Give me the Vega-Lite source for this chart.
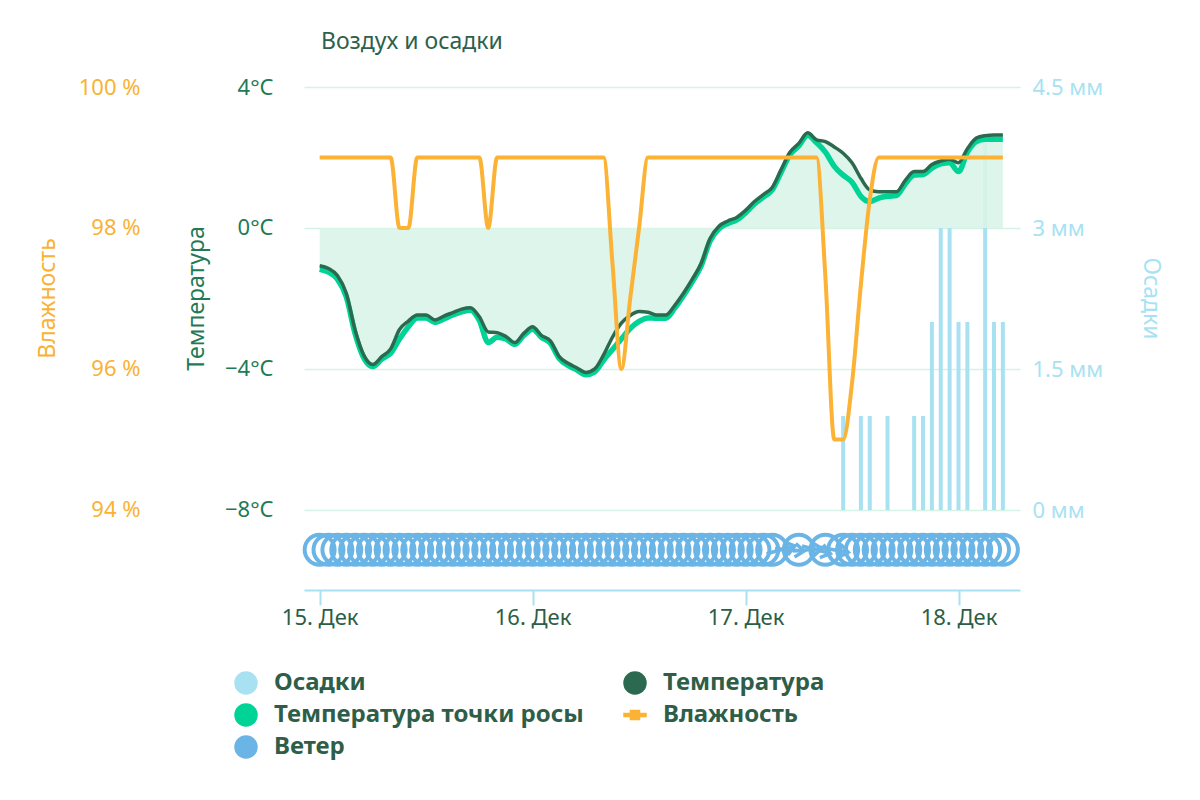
{
  "$schema": "https://vega.github.io/schema/vega-lite/v6.json",
  "width": 716,
  "height": 503,
  "autosize": "none",
  "padding": {"left": 304, "top": 87, "right": 180, "bottom": 210},
  "background": "#ffffff",
  "title": {
    "text": "Воздух и осадки",
    "anchor": "start",
    "frame": "group",
    "baseline": "alphabetic",
    "offset": 4,
    "dx": 17,
    "fontSize": 23,
    "fontWeight": "normal",
    "color": "#2f5f4e"
  },
  "data": {
    "values": [
      {"t": "2024-12-15T00:00Z", "temp": -1.07, "dew": -1.17, "hum": 99, "precip": 0, "wind": 0, "dir": 0},
      {"t": "2024-12-15T01:00Z", "temp": -1.15, "dew": -1.25, "hum": 99, "precip": 0, "wind": 0, "dir": 0},
      {"t": "2024-12-15T02:00Z", "temp": -1.35, "dew": -1.45, "hum": 99, "precip": 0, "wind": 0, "dir": 0},
      {"t": "2024-12-15T03:00Z", "temp": -1.85, "dew": -1.95, "hum": 99, "precip": 0, "wind": 0, "dir": 0},
      {"t": "2024-12-15T04:00Z", "temp": -2.9, "dew": -3.0, "hum": 99, "precip": 0, "wind": 0, "dir": 0},
      {"t": "2024-12-15T05:00Z", "temp": -3.62, "dew": -3.7, "hum": 99, "precip": 0, "wind": 0, "dir": 0},
      {"t": "2024-12-15T06:00Z", "temp": -3.87, "dew": -3.93, "hum": 99, "precip": 0, "wind": 0, "dir": 0},
      {"t": "2024-12-15T07:00Z", "temp": -3.65, "dew": -3.72, "hum": 99, "precip": 0, "wind": 0, "dir": 0},
      {"t": "2024-12-15T08:00Z", "temp": -3.43, "dew": -3.55, "hum": 99, "precip": 0, "wind": 0, "dir": 0},
      {"t": "2024-12-15T09:00Z", "temp": -2.88, "dew": -3.15, "hum": 98, "precip": 0, "wind": 0, "dir": 0},
      {"t": "2024-12-15T10:00Z", "temp": -2.64, "dew": -2.8, "hum": 98, "precip": 0, "wind": 0, "dir": 0},
      {"t": "2024-12-15T11:00Z", "temp": -2.47, "dew": -2.55, "hum": 99, "precip": 0, "wind": 0, "dir": 0},
      {"t": "2024-12-15T12:00Z", "temp": -2.47, "dew": -2.55, "hum": 99, "precip": 0, "wind": 0, "dir": 0},
      {"t": "2024-12-15T13:00Z", "temp": -2.61, "dew": -2.68, "hum": 99, "precip": 0, "wind": 0, "dir": 0},
      {"t": "2024-12-15T14:00Z", "temp": -2.5, "dew": -2.58, "hum": 99, "precip": 0, "wind": 0, "dir": 0},
      {"t": "2024-12-15T15:00Z", "temp": -2.4, "dew": -2.47, "hum": 99, "precip": 0, "wind": 0, "dir": 0},
      {"t": "2024-12-15T16:00Z", "temp": -2.3, "dew": -2.38, "hum": 99, "precip": 0, "wind": 0, "dir": 0},
      {"t": "2024-12-15T17:00Z", "temp": -2.26, "dew": -2.33, "hum": 99, "precip": 0, "wind": 0, "dir": 0},
      {"t": "2024-12-15T18:00Z", "temp": -2.52, "dew": -2.62, "hum": 99, "precip": 0, "wind": 0, "dir": 0},
      {"t": "2024-12-15T19:00Z", "temp": -2.95, "dew": -3.25, "hum": 98, "precip": 0, "wind": 0, "dir": 0},
      {"t": "2024-12-15T20:00Z", "temp": -2.97, "dew": -3.1, "hum": 99, "precip": 0, "wind": 0, "dir": 0},
      {"t": "2024-12-15T21:00Z", "temp": -3.08, "dew": -3.15, "hum": 99, "precip": 0, "wind": 0, "dir": 0},
      {"t": "2024-12-15T22:00Z", "temp": -3.25, "dew": -3.3, "hum": 99, "precip": 0, "wind": 0, "dir": 0},
      {"t": "2024-12-15T23:00Z", "temp": -2.99, "dew": -3.05, "hum": 99, "precip": 0, "wind": 0, "dir": 0},
      {"t": "2024-12-16T00:00Z", "temp": -2.8, "dew": -2.87, "hum": 99, "precip": 0, "wind": 0, "dir": 0},
      {"t": "2024-12-16T01:00Z", "temp": -3.05, "dew": -3.1, "hum": 99, "precip": 0, "wind": 0, "dir": 0},
      {"t": "2024-12-16T02:00Z", "temp": -3.2, "dew": -3.27, "hum": 99, "precip": 0, "wind": 0, "dir": 0},
      {"t": "2024-12-16T03:00Z", "temp": -3.65, "dew": -3.7, "hum": 99, "precip": 0, "wind": 0, "dir": 0},
      {"t": "2024-12-16T04:00Z", "temp": -3.84, "dew": -3.9, "hum": 99, "precip": 0, "wind": 0, "dir": 0},
      {"t": "2024-12-16T05:00Z", "temp": -3.97, "dew": -4.03, "hum": 99, "precip": 0, "wind": 0, "dir": 0},
      {"t": "2024-12-16T06:00Z", "temp": -4.1, "dew": -4.16, "hum": 99, "precip": 0, "wind": 0, "dir": 0},
      {"t": "2024-12-16T07:00Z", "temp": -4.0, "dew": -4.08, "hum": 99, "precip": 0, "wind": 0, "dir": 0},
      {"t": "2024-12-16T08:00Z", "temp": -3.6, "dew": -3.75, "hum": 99, "precip": 0, "wind": 0, "dir": 0},
      {"t": "2024-12-16T09:00Z", "temp": -3.1, "dew": -3.45, "hum": 97.5, "precip": 0, "wind": 0, "dir": 0},
      {"t": "2024-12-16T10:00Z", "temp": -2.7, "dew": -3.15, "hum": 96, "precip": 0, "wind": 0, "dir": 0},
      {"t": "2024-12-16T11:00Z", "temp": -2.48, "dew": -2.85, "hum": 97, "precip": 0, "wind": 0, "dir": 0},
      {"t": "2024-12-16T12:00Z", "temp": -2.37, "dew": -2.65, "hum": 98, "precip": 0, "wind": 0, "dir": 0},
      {"t": "2024-12-16T13:00Z", "temp": -2.39, "dew": -2.55, "hum": 99, "precip": 0, "wind": 0, "dir": 0},
      {"t": "2024-12-16T14:00Z", "temp": -2.47, "dew": -2.56, "hum": 99, "precip": 0, "wind": 0, "dir": 0},
      {"t": "2024-12-16T15:00Z", "temp": -2.47, "dew": -2.56, "hum": 99, "precip": 0, "wind": 0, "dir": 0},
      {"t": "2024-12-16T16:00Z", "temp": -2.2, "dew": -2.28, "hum": 99, "precip": 0, "wind": 0, "dir": 0},
      {"t": "2024-12-16T17:00Z", "temp": -1.85, "dew": -1.92, "hum": 99, "precip": 0, "wind": 0, "dir": 0},
      {"t": "2024-12-16T18:00Z", "temp": -1.45, "dew": -1.52, "hum": 99, "precip": 0, "wind": 0, "dir": 0},
      {"t": "2024-12-16T19:00Z", "temp": -1.0, "dew": -1.07, "hum": 99, "precip": 0, "wind": 0, "dir": 0},
      {"t": "2024-12-16T20:00Z", "temp": -0.3, "dew": -0.37, "hum": 99, "precip": 0, "wind": 0, "dir": 0},
      {"t": "2024-12-16T21:00Z", "temp": 0.05, "dew": -0.02, "hum": 99, "precip": 0, "wind": 0, "dir": 0},
      {"t": "2024-12-16T22:00Z", "temp": 0.2, "dew": 0.13, "hum": 99, "precip": 0, "wind": 0, "dir": 0},
      {"t": "2024-12-16T23:00Z", "temp": 0.3, "dew": 0.23, "hum": 99, "precip": 0, "wind": 0, "dir": 0},
      {"t": "2024-12-17T00:00Z", "temp": 0.5, "dew": 0.43, "hum": 99, "precip": 0, "wind": 0, "dir": 0},
      {"t": "2024-12-17T01:00Z", "temp": 0.75, "dew": 0.68, "hum": 99, "precip": 0, "wind": 0, "dir": 0},
      {"t": "2024-12-17T02:00Z", "temp": 0.95, "dew": 0.88, "hum": 99, "precip": 0, "wind": 0, "dir": 0},
      {"t": "2024-12-17T03:00Z", "temp": 1.15, "dew": 1.08, "hum": 99, "precip": 0, "wind": 0, "dir": 0},
      {"t": "2024-12-17T04:00Z", "temp": 1.65, "dew": 1.58, "hum": 99, "precip": 0, "wind": 1, "dir": 255},
      {"t": "2024-12-17T05:00Z", "temp": 2.15, "dew": 2.08, "hum": 99, "precip": 0, "wind": 1, "dir": 275},
      {"t": "2024-12-17T06:00Z", "temp": 2.4, "dew": 2.33, "hum": 99, "precip": 0, "wind": 0, "dir": 0},
      {"t": "2024-12-17T07:00Z", "temp": 2.7, "dew": 2.63, "hum": 99, "precip": 0, "wind": 1, "dir": 265},
      {"t": "2024-12-17T08:00Z", "temp": 2.5, "dew": 2.42, "hum": 99, "precip": 0, "wind": 1, "dir": 285},
      {"t": "2024-12-17T09:00Z", "temp": 2.45, "dew": 2.15, "hum": 97.3, "precip": 0, "wind": 0, "dir": 0},
      {"t": "2024-12-17T10:00Z", "temp": 2.3, "dew": 1.75, "hum": 95, "precip": 0, "wind": 1, "dir": 280},
      {"t": "2024-12-17T11:00Z", "temp": 2.12, "dew": 1.5, "hum": 95, "precip": 1, "wind": 0, "dir": 0},
      {"t": "2024-12-17T12:00Z", "temp": 1.85, "dew": 1.3, "hum": 95.8, "precip": 0, "wind": 0, "dir": 0},
      {"t": "2024-12-17T13:00Z", "temp": 1.41, "dew": 0.9, "hum": 97.2, "precip": 1, "wind": 0, "dir": 0},
      {"t": "2024-12-17T14:00Z", "temp": 1.08, "dew": 0.75, "hum": 98.4, "precip": 1, "wind": 0, "dir": 0},
      {"t": "2024-12-17T15:00Z", "temp": 1.03, "dew": 0.85, "hum": 99, "precip": 0, "wind": 0, "dir": 0},
      {"t": "2024-12-17T16:00Z", "temp": 1.03, "dew": 0.9, "hum": 99, "precip": 1, "wind": 0, "dir": 0},
      {"t": "2024-12-17T17:00Z", "temp": 1.03, "dew": 0.92, "hum": 99, "precip": 0, "wind": 0, "dir": 0},
      {"t": "2024-12-17T18:00Z", "temp": 1.35, "dew": 1.25, "hum": 99, "precip": 0, "wind": 0, "dir": 0},
      {"t": "2024-12-17T19:00Z", "temp": 1.6, "dew": 1.5, "hum": 99, "precip": 1, "wind": 0, "dir": 0},
      {"t": "2024-12-17T20:00Z", "temp": 1.6, "dew": 1.52, "hum": 99, "precip": 1, "wind": 0, "dir": 0},
      {"t": "2024-12-17T21:00Z", "temp": 1.8, "dew": 1.7, "hum": 99, "precip": 2, "wind": 0, "dir": 0},
      {"t": "2024-12-17T22:00Z", "temp": 1.9, "dew": 1.82, "hum": 99, "precip": 3, "wind": 0, "dir": 0},
      {"t": "2024-12-17T23:00Z", "temp": 1.95, "dew": 1.85, "hum": 99, "precip": 3, "wind": 0, "dir": 0},
      {"t": "2024-12-18T00:00Z", "temp": 1.85, "dew": 1.6, "hum": 99, "precip": 2, "wind": 0, "dir": 0},
      {"t": "2024-12-18T01:00Z", "temp": 2.25, "dew": 2.15, "hum": 99, "precip": 2, "wind": 0, "dir": 0},
      {"t": "2024-12-18T02:00Z", "temp": 2.55, "dew": 2.45, "hum": 99, "precip": 0, "wind": 0, "dir": 0},
      {"t": "2024-12-18T03:00Z", "temp": 2.62, "dew": 2.52, "hum": 99, "precip": 4, "wind": 0, "dir": 0},
      {"t": "2024-12-18T04:00Z", "temp": 2.64, "dew": 2.52, "hum": 99, "precip": 2, "wind": 0, "dir": 0},
      {"t": "2024-12-18T05:00Z", "temp": 2.64, "dew": 2.52, "hum": 99, "precip": 2, "wind": 0, "dir": 0}
    ]
  },
  "encoding": {
    "x": {
      "field": "t",
      "type": "temporal",
      "scale": {
        "type": "utc",
        "domain": [
          {"year": 2024, "month": 12, "date": 14, "hours": 22, "minutes": 48, "utc": true},
          {"year": 2024, "month": 12, "date": 18, "hours": 6, "minutes": 22, "utc": true}
        ]
      },
      "axis": {
        "title": null,
        "grid": false,
        "values": [
          {"year": 2024, "month": 12, "date": 15, "utc": true},
          {"year": 2024, "month": 12, "date": 16, "utc": true},
          {"year": 2024, "month": 12, "date": 17, "utc": true},
          {"year": 2024, "month": 12, "date": 18, "utc": true}
        ],
        "labelExpr": "utcFormat(datum.value, '%d') + '. Дек'",
        "labelFlush": false,
        "labelFontSize": 22,
        "labelColor": "#2b5e45",
        "labelPadding": 2,
        "domainColor": "#a8e2f2",
        "domainWidth": 2,
        "tickColor": "#a8e2f2",
        "tickWidth": 2,
        "tickSize": 15
      }
    }
  },
  "layer": [
    {
      "mark": {"type": "bar", "size": 4},
      "encoding": {
        "y": {
          "field": "precip",
          "type": "quantitative",
          "scale": {"domain": [-0.851, 4.5], "nice": false, "zero": false},
          "axis": {
            "orient": "right",
            "values": [0, 1.5, 3, 4.5],
            "labelExpr": "datum.value + ' мм'",
            "grid": false,
            "ticks": false,
            "domain": false,
            "labelPadding": 12,
            "labelFontSize": 22,
            "labelColor": "#a8e2f2",
            "title": "Осадки",
            "titleColor": "#a8e2f2",
            "titleFontSize": 23,
            "titleFontWeight": "normal",
            "titlePadding": 36,
            "titleY": 211
          }
        },
        "y2": {"datum": 0},
        "color": {
          "datum": "Осадки",
          "type": "nominal",
          "scale": {
            "domain": ["Осадки", "Температура точки росы", "Ветер", "Температура", "Влажность"],
            "range": ["#a8e2f2", "#00d396", "#6ab5e6", "#2b6a4e", "#fbb235"]
          },
          "legend": {
            "title": null,
            "orient": "none",
            "legendX": -70,
            "legendY": 584,
            "padding": 0,
            "columns": 2,
            "columnPadding": 39,
            "rowPadding": 8,
            "symbolType": "circle",
            "symbolSize": 550,
            "symbolStrokeWidth": 0,
            "labelOffset": 16,
            "labelFontSize": 24,
            "labelFontWeight": "bold",
            "labelColor": "#2e5e48",
            "labelLimit": 400,
            "encode": {
              "symbols": {
                "update": {
                  "shape": {"signal": "datum.value === 'Влажность' ? 'M-1,-0.2L1,-0.2L1,0.2L-1,0.2Z M-0.45,-0.45L0.45,-0.45L0.45,0.45L-0.45,0.45Z' : 'circle'"},
                  "fill": {"scale": "color", "field": "value"},
                  "stroke": {"value": "transparent"},
                  "opacity": {"value": 1}
                }
              }
            }
          }
        }
      }
    },
    {
      "layer": [
        {
          "mark": {"type": "area", "interpolate": "monotone", "color": "#d9f4e8", "opacity": 0.9},
          "encoding": {
            "y": {
              "field": "temp",
              "type": "quantitative",
              "scale": {"domain": [-10.27, 4], "nice": false, "zero": false},
              "axis": {
                "orient": "left",
                "values": [-8, -4, 0, 4],
                "labelExpr": "replace(datum.value + '°C', '-', '−')",
                "grid": true,
                "gridColor": "#d5f2e7",
                "gridWidth": 1.5,
                "ticks": false,
                "domain": false,
                "labelPadding": 31,
                "labelFontSize": 22,
                "labelColor": "#1f7a55",
                "title": "Температура",
                "titleColor": "#1f7a55",
                "titleFontSize": 23,
                "titleFontWeight": "normal",
                "titlePadding": 16,
                "titleY": 211
              }
            },
            "y2": {"datum": 0}
          }
        },
        {
          "mark": {"type": "line", "interpolate": "monotone", "strokeWidth": 5.5},
          "encoding": {
            "y": {"field": "dew", "type": "quantitative", "title": "Температура"},
            "color": {"datum": "Температура точки росы", "type": "nominal"}
          }
        },
        {
          "mark": {"type": "line", "interpolate": "monotone", "strokeWidth": 3.5},
          "encoding": {
            "y": {"field": "temp", "type": "quantitative", "title": "Температура"},
            "color": {"datum": "Температура", "type": "nominal"}
          }
        },
        {
          "transform": [{"filter": "datum.wind === 0"}],
          "mark": {"type": "point", "shape": "circle", "filled": false, "size": 900, "strokeWidth": 4, "opacity": 1},
          "encoding": {
            "y": {"datum": -9.13, "type": "quantitative"},
            "color": {"datum": "Ветер", "type": "nominal"}
          }
        },
        {
          "transform": [{"filter": "datum.wind > 0"}],
          "mark": {"type": "point", "shape": "M-1,0L0.9,0M0.35,-0.45L0.95,0L0.35,0.45", "filled": false, "size": 900, "strokeWidth": 3.5, "opacity": 1},
          "encoding": {
            "y": {"datum": -9.13, "type": "quantitative"},
            "angle": {"field": "dir", "type": "quantitative", "scale": {"domain": [0, 360], "range": [90, 450]}},
            "color": {"datum": "Ветер", "type": "nominal"}
          }
        }
      ]
    },
    {
      "mark": {"type": "line", "interpolate": "monotone", "strokeWidth": 4},
      "encoding": {
        "y": {
          "field": "hum",
          "type": "quantitative",
          "scale": {"domain": [92.865, 100], "nice": false, "zero": false},
          "axis": {
            "orient": "left",
            "offset": 133,
            "values": [94, 96, 98, 100],
            "labelExpr": "datum.value + ' %'",
            "grid": false,
            "ticks": false,
            "domain": false,
            "labelPadding": 31,
            "labelFontSize": 22,
            "labelColor": "#f9b233",
            "title": "Влажность",
            "titleColor": "#f9b233",
            "titleFontSize": 23,
            "titleFontWeight": "normal",
            "titlePadding": 19,
            "titleY": 211
          }
        },
        "color": {"datum": "Влажность", "type": "nominal"}
      }
    }
  ],
  "resolve": {"scale": {"y": "independent"}},
  "config": {
    "font": "Noto Sans",
    "view": {"stroke": null}
  }
}
